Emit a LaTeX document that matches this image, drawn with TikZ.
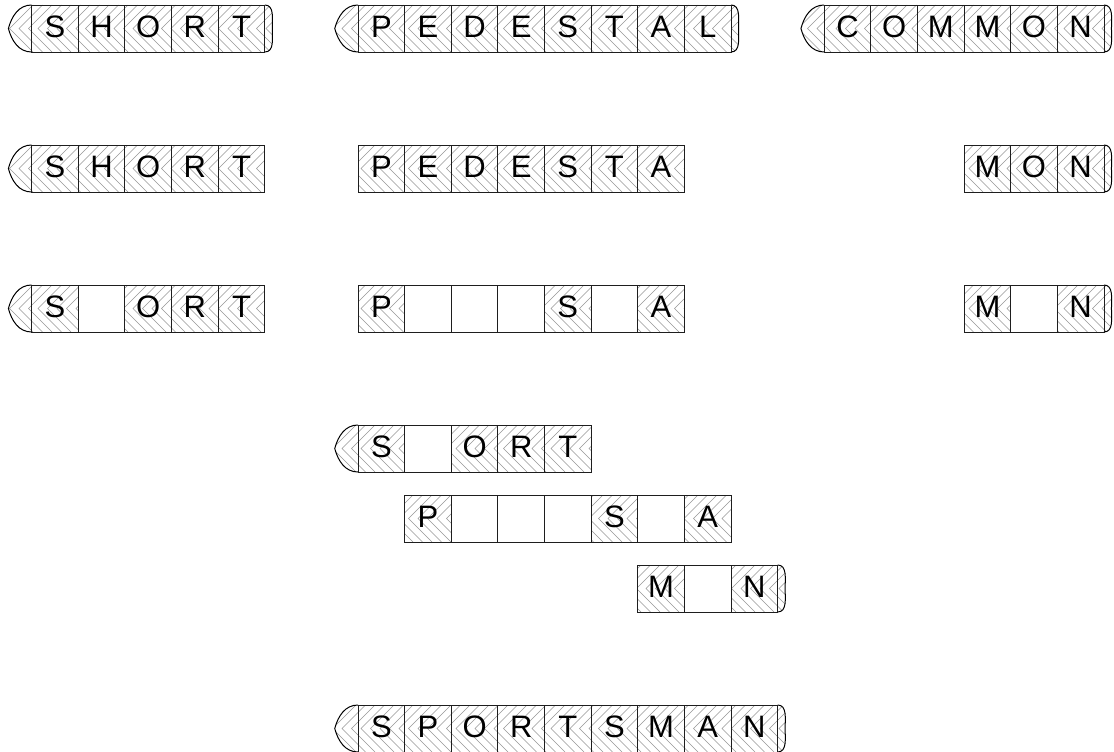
\documentclass[tikz,border=0pt]{standalone}
\usepackage{fontspec}
\setmainfont{Liberation Sans}
\definecolor{hatchgray}{RGB}{150,150,150}
\definecolor{edgegray}{RGB}{30,30,30}
\tikzset{
  cellbox/.style={draw=edgegray, line width=0.9pt},
  capline/.style={draw=black, line width=1pt},
  hatchline/.style={draw=hatchgray, line width=0.6pt},
  letter/.style={font=\fontsize{31}{31}\selectfont, anchor=base, inner sep=0pt},
}
\def\cw{46.62}
\def\ch{47}
\def\hp{9.5}
\def\xo{31.7}
\def\blankcell{-}
\newcommand{\hatchrange}[2]{%
  \pgfmathsetmacro{\hs}{floor(((#1)-\ch/2)/\hp)*\hp}%
  \pgfmathsetmacro{\hn}{int(((#2)-(\hs))/\hp)+1}%
  \foreach \j in {0,...,\hn} {\draw[hatchline] ({\hs+\j*\hp+\ch/2},\yt) -- ({\hs+\j*\hp},\ym) -- ({\hs+\j*\hp+\ch/2},\yb);}%
}
% #1 name, #2 top (px), #3 start column, #4 cell count, #5 letters, #6 left cap, #7 right cap
\newcommand{\wordrow}[7]{%
  \pgfmathsetmacro{\yt}{-#2}%
  \pgfmathsetmacro{\yb}{\yt-\ch}%
  \pgfmathsetmacro{\ym}{\yt-\ch/2}%
  \pgfmathsetmacro{\xl}{\xo+#3*\cw}%
  \pgfmathsetmacro{\xr}{\xl+#4*\cw}%
  \ifnum#6=1
    \begin{scope}
      \clip (\xl,\yt) to[out=180,in=75] ({\xl-23.3},\ym) to[out=-75,in=180] (\xl,\yb) -- cycle;
      \hatchrange{\xl-30}{\xl}
    \end{scope}
    \draw[capline] (\xl,\yt) to[out=180,in=75] ({\xl-23.3},\ym) to[out=-75,in=180] (\xl,\yb);
  \fi
  \ifnum#7=1
    \begin{scope}
      \clip (\xr,\yt) to[out=0,in=90] ({\xr+7.5},\ym) to[out=-90,in=0] (\xr,\yb) -- cycle;
      \hatchrange{\xr}{\xr+10}
    \end{scope}
    \draw[capline] (\xr,\yt) to[out=0,in=90] ({\xr+7.5},\ym) to[out=-90,in=0] (\xr,\yb);
  \fi
  \foreach \lt [count=\i from 0] in {#5} {%
    \pgfmathsetmacro{\xa}{\xl+\i*\cw}%
    \edef\cur{\lt}%
    \ifx\cur\blankcell\else
      \begin{scope}
        \clip (\xa,\yb) rectangle ({\xa+\cw},\yt);
        \hatchrange{\xa}{\xa+\cw}
      \end{scope}
    \fi
  }%
  \foreach \lt [count=\i from 0] in {#5} {%
    \pgfmathsetmacro{\xa}{\xl+\i*\cw}%
    \draw[cellbox] (\xa,\yb) rectangle ({\xa+\cw},\yt);
  }%
  \foreach \lt [count=\i from 0] in {#5} {%
    \pgfmathsetmacro{\xa}{\xl+\i*\cw}%
    \edef\cur{\lt}%
    \ifx\cur\blankcell\else
      \node[letter] (#1-\i) at ({\xa+\cw/2},{\yb+14.3}) {\lt};
    \fi
  }%
}
\begin{document}
\begin{tikzpicture}[x=1pt,y=1pt]
\useasboundingbox (0,0) rectangle (1114,-752);
% row 1
\wordrow{short}{5}{0}{5}{S,H,O,R,T}{1}{1}
\wordrow{pedestal}{5}{7}{8}{P,E,D,E,S,T,A,L}{1}{1}
\wordrow{common}{5}{17}{6}{C,O,M,M,O,N}{1}{1}
% row 2
\wordrow{shortb}{145}{0}{5}{S,H,O,R,T}{1}{0}
\wordrow{pedesta}{145}{7}{7}{P,E,D,E,S,T,A}{0}{0}
\wordrow{mon}{145}{20}{3}{M,O,N}{0}{1}
% row 3
\wordrow{sort}{285}{0}{5}{S,-,O,R,T}{1}{0}
\wordrow{psa}{285}{7}{7}{P,-,-,-,S,-,A}{0}{0}
\wordrow{mn}{285}{20}{3}{M,-,N}{0}{1}
% stacked
\wordrow{sortb}{425}{7}{5}{S,-,O,R,T}{1}{0}
\wordrow{psab}{495}{8}{7}{P,-,-,-,S,-,A}{0}{0}
\wordrow{mnb}{565}{13}{3}{M,-,N}{0}{1}
% result
\wordrow{sportsman}{705}{7}{9}{S,P,O,R,T,S,M,A,N}{1}{1}
\end{tikzpicture}
\end{document}
